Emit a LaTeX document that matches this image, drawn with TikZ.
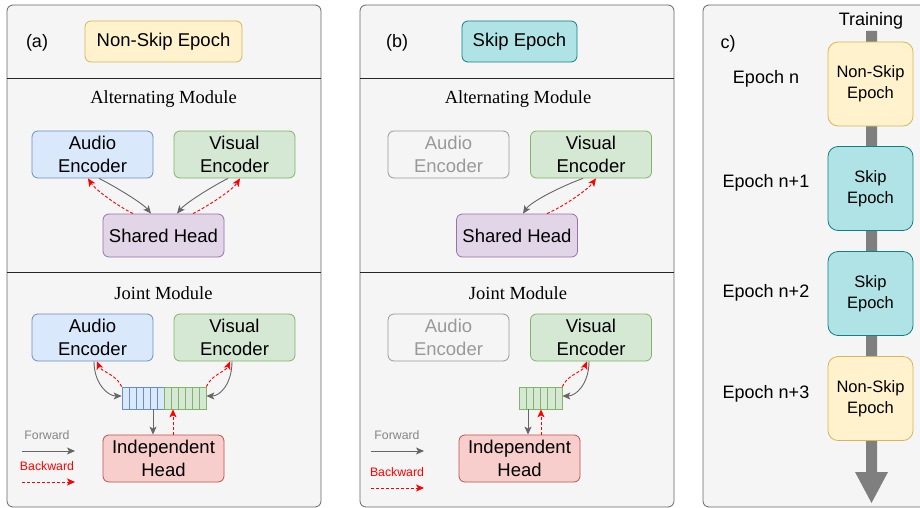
\documentclass[tikz,border=0pt]{standalone}
\usepackage{fontspec}
\setmainfont{Liberation Sans}
\newfontfamily\serifff{Liberation Serif}
\usetikzlibrary{arrows.meta,calc}
\definecolor{panelbg}{HTML}{F5F5F5}
\definecolor{panelline}{HTML}{666666}
\definecolor{yfill}{HTML}{FFF2CC}\definecolor{yline}{HTML}{D6B656}
\definecolor{cfill}{HTML}{B0E3E6}\definecolor{cline}{HTML}{0E8088}
\definecolor{bfill}{HTML}{DAE8FC}\definecolor{bline}{HTML}{6C8EBF}
\definecolor{gfill}{HTML}{D5E8D4}\definecolor{gline}{HTML}{82B366}
\definecolor{pfill}{HTML}{E1D5E7}\definecolor{pline}{HTML}{9673A6}
\definecolor{rfill}{HTML}{F8CECC}\definecolor{rline}{HTML}{B85450}
\definecolor{offline}{HTML}{999999}
\definecolor{fwdgray}{HTML}{666666}
\definecolor{trainarrow}{HTML}{7F7F7F}
\tikzset{
  panel/.style={draw=panelline, fill=panelbg, rounded corners=6pt, line width=0.8pt},
  divider/.style={draw=black!85, line width=0.8pt},
  box/.style={draw, rounded corners=6pt, line width=0.8pt, align=center, inner sep=0pt,
    font=\fontsize{18.5}{22.5}\selectfont},
  enc/.style={box, minimum width=121pt, minimum height=47pt},
  audio/.style={enc, fill=bfill, draw=bline},
  visual/.style={enc, fill=gfill, draw=gline},
  offenc/.style={enc, fill=panelbg, draw=offline, text=offline},
  shared/.style={box, fill=pfill, draw=pline, minimum width=121pt, minimum height=43pt},
  indep/.style={enc, fill=rfill, draw=rline},
  nonskip/.style={box, fill=yfill, draw=yline},
  skipb/.style={box, fill=cfill, draw=cline},
  epochbox/.style={box, rounded corners=10pt, minimum width=85pt, minimum height=84pt,
    font=\fontsize{16.5}{21}\selectfont},
  title/.style={font=\serifff\fontsize{18.5}{22}\selectfont, inner sep=0pt},
  lbl/.style={font=\fontsize{18}{22}\selectfont, inner sep=0pt},
  legtext/.style={font=\fontsize{12.3}{14}\selectfont, inner sep=0pt},
  tokA/.style={draw=bline, fill=bfill, line width=0.7pt, minimum width=42pt, minimum height=22pt, inner sep=0pt},
  tokV/.style={draw=gline, fill=gfill, line width=0.7pt, minimum width=42pt, minimum height=22pt, inner sep=0pt},
  fwd/.style={draw=fwdgray, line width=0.9pt, -{Stealth[length=8pt,width=7pt,inset=2pt]}},
  bwd/.style={draw=red, line width=0.9pt, dash pattern=on 3pt off 2pt, -{Stealth[length=8pt,width=7pt,inset=2pt,fill=red]}},
}
\begin{document}
\begin{tikzpicture}[x=1pt,y=-1pt]
\useasboundingbox (0,0) rectangle (920,508);
% panels
\draw[panel] (7,5) rectangle (321,507);
\draw[panel] (360,5) rectangle (674,507);
\draw[panel] (703,5) rectangle (940,507);
\draw[divider] (7,78) -- (321,78);
\draw[divider] (7,272) -- (321,272);
\draw[divider] (360,78) -- (674,78);
\draw[divider] (360,272) -- (674,272);

% ---------- panel (a)
\node[lbl] (la) at (37,43) {(a)};
\node[nonskip, minimum width=157pt, minimum height=41pt] (nsE) at (163.5,41.5) {Non-Skip Epoch};
\node[title] (aTitle) at (163.5,99) {Alternating Module};
\node[audio] (aA) at (92.5,154.5) {Audio\\Encoder};
\node[visual] (aV) at (234.5,154.5) {Visual\\Encoder};
\node[shared] (aS) at (163.5,235.5) {Shared Head};
\draw[fwd] ([xshift=6.5pt]aA.south) .. controls +(14,7) and +(-9,-11) .. ([xshift=-12.5pt]aS.north);
\draw[bwd] ([xshift=-30.5pt]aS.north) .. controls +(-16,-8) and +(7,11) .. ([xshift=-4.5pt]aA.south);
\draw[fwd] ([xshift=-6.5pt]aV.south) .. controls +(-14,7) and +(9,-11) .. ([xshift=13.5pt]aS.north);
\draw[bwd] ([xshift=29.5pt]aS.north) .. controls +(16,-8) and +(-7,11) .. ([xshift=5.5pt]aV.south);

\node[title] (jTitle) at (163.5,293) {Joint Module};
\node[audio] (jA) at (92.5,337.5) {Audio\\Encoder};
\node[visual] (jV) at (234.5,337.5) {Visual\\Encoder};
\node[tokA] (jBA) at (143,398) {};
\node[tokV] (jBV) at (185,398) {};
\foreach \i in {1,...,5} {\draw[bline, line width=0.7pt] (122+7*\i,387) -- (122+7*\i,409);}
\foreach \i in {1,...,5} {\draw[gline, line width=0.7pt] (164+7*\i,387) -- (164+7*\i,409);}
\node[indep] (jI) at (163.5,458.5) {Independent\\Head};
\draw[fwd] ([xshift=1.5pt]jA.south) .. controls +(0,22) and +(-14,0) .. ([yshift=2pt]jBA.west);
\draw[bwd] (jBA.north west) .. controls +(-5,-12) and +(4,10) .. ([xshift=4.5pt]jA.south);
\draw[fwd] ([xshift=-2.5pt]jV.south) .. controls +(0,22) and +(14,0) .. ([yshift=2pt]jBV.east);
\draw[bwd] (jBV.north east) .. controls +(5,-12) and +(-4,10) .. ([xshift=-4.5pt]jV.south);
\draw[fwd] ([xshift=10pt]jBA.south) -- ([xshift=10pt]jBA.south |- jI.north);
\draw[bwd] ([xshift=-12pt]jBV.south |- jI.north) -- ([xshift=-12pt]jBV.south);

\node[legtext, text=fwdgray!80] (fa) at (47,435) {Forward};
\coordinate (fa1) at (22,451); \coordinate (fa2) at (75,451);
\draw[fwd] (fa1) -- (fa2);
\node[legtext, text=red] (ba) at (47,466) {Backward};
\coordinate (ba1) at (22,482); \coordinate (ba2) at (75,482);
\draw[bwd] (ba1) -- (ba2);

% ---------- panel (b)
\node[lbl] (lb) at (397,43) {(b)};
\node[skipb, minimum width=115pt, minimum height=41pt] (sE) at (519.5,41.5) {Skip Epoch};
\node[title] (bTitle) at (518,99) {Alternating Module};
\node[offenc] (bA) at (448.5,154.5) {Audio\\Encoder};
\node[visual] (bV) at (591,154.5) {Visual\\Encoder};
\node[shared] (bS) at (517,235.5) {Shared Head};
\draw[fwd] ([xshift=-8pt]bV.south) .. controls +(-22,8) and +(8,-12) .. ([xshift=6pt]bS.north);
\draw[bwd] ([xshift=30pt]bS.north) .. controls +(18,-8) and +(-8,11) .. ([xshift=5pt]bV.south);

\node[title] (bjTitle) at (518,293) {Joint Module};
\node[offenc] (bjA) at (448.5,337.5) {Audio\\Encoder};
\node[visual] (bjV) at (591,337.5) {Visual\\Encoder};
\node[tokV, minimum width=43pt] (bjB) at (540.5,398) {};
\foreach \i in {1,...,5} {\draw[gline, line width=0.7pt] (519+7.17*\i,387) -- (519+7.17*\i,409);}
\node[indep] (bjI) at (519.5,458.5) {Independent\\Head};
\draw[fwd] ([xshift=-2pt]bjV.south) .. controls +(0,22) and +(14,0) .. ([yshift=2pt]bjB.east);
\draw[bwd] (bjB.north east) .. controls +(5,-12) and +(-4,10) .. ([xshift=-4pt]bjV.south);
\draw[fwd] ([xshift=-12.5pt]bjB.south) -- ([xshift=-12.5pt]bjB.south |- bjI.north);
\draw[bwd] ([xshift=0.5pt]bjB.south |- bjI.north) -- ([xshift=0.5pt]bjB.south);

\node[legtext, text=fwdgray!80] (fb) at (397,435) {Forward};
\coordinate (fb1) at (371,451); \coordinate (fb2) at (424,451);
\draw[fwd] (fb1) -- (fb2);
\node[legtext, text=red] (bb) at (397,472) {Backward};
\coordinate (bb1) at (371,488); \coordinate (bb2) at (424,488);
\draw[bwd] (bb1) -- (bb2);

% ---------- panel (c)
\fill[trainarrow] (866,31) -- (877,31) -- (877,472) -- (888,472) -- (871.5,503) -- (855,472) -- (866,472) -- cycle;
\node[lbl] (train) at (871,21) {Training};
\node[lbl] (lc) at (728,44) {c)};
\node[epochbox, fill=yfill, draw=yline] (e0) at (870.5,84) {Non-Skip\\Epoch};
\node[epochbox, fill=cfill, draw=cline] (e1) at (870.5,188.5) {Skip\\Epoch};
\node[epochbox, fill=cfill, draw=cline] (e2) at (870.5,293.5) {Skip\\Epoch};
\node[epochbox, fill=yfill, draw=yline] (e3) at (870.5,398.5) {Non-Skip\\Epoch};
\node[lbl] (n0) at (766,79) {Epoch n};
\node[lbl] (n1) at (766,183) {Epoch n+1};
\node[lbl] (n2) at (766,293) {Epoch n+2};
\node[lbl] (n3) at (766,394) {Epoch n+3};
\end{tikzpicture}
\end{document}
